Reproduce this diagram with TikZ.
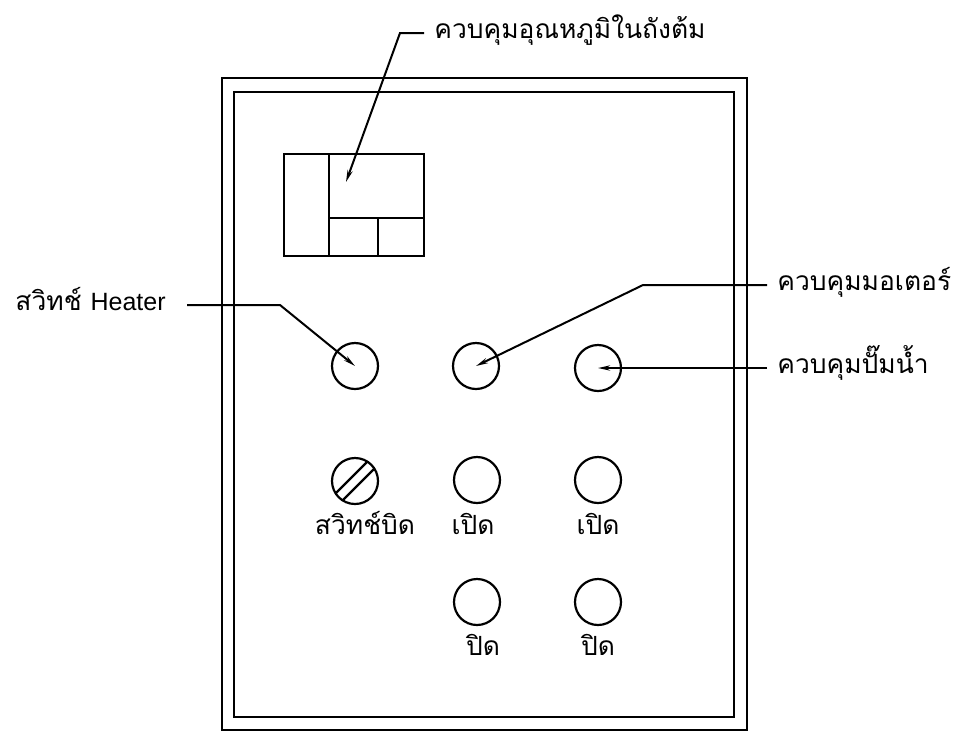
\documentclass[tikz,border=0pt]{standalone}
\usepackage{fontspec}
\setsansfont{Liberation Sans}
\newfontfamily\thaifont[Script=Thai]{Loma}
\usetikzlibrary{arrows.meta,calc}

\begin{document}
\begin{tikzpicture}[x=0.5pt,y=-0.5pt,
    every node/.style={font=\thaifont\fontsize{13.2}{16}\selectfont},
    frame/.style={line width=1.4pt},
    knob/.style={draw,circle,line width=1.1pt,minimum size=23pt,inner sep=0pt},
    lead/.style={line width=1pt,-{Stealth[length=6pt,width=2.6pt]}},
    tag/.style={inner xsep=5pt,inner ysep=2pt,text height=0.6em,text depth=0.05em}]
    \useasboundingbox (0,0) rectangle (963,734);

    % panel
    \draw[frame] (222,78) rectangle (747,730);
    \draw[frame] (234,92) rectangle (734,717);

    % temperature controller
    \draw[line width=1.1pt] (284,154) rectangle (424,256);
    \draw[line width=1.1pt] (329,154) -- (329,256) (329,218) -- (424,218) (378,218) -- (378,256);
    \coordinate (disp) at (346,182);

    % knobs and lamps
    \node[knob] (heat) at (355,366) {};
    \node[knob] (motor) at (476,366) {};
    \node[knob] (pump) at (598,368) {};
    \node[knob] (sw) at (355,481) {};
    \node[knob] (on1) at (477,480) {};
    \node[knob] (on2) at (598,480) {};
    \node[knob] (off1) at (477,602) {};
    \node[knob] (off2) at (598,602) {};
    \draw[line width=1.1pt] ($(sw)+(-19.3,12.3)$) -- ($(sw)+(12.3,-19.3)$)
        ($(sw)+(-12.3,19.3)$) -- ($(sw)+(19.3,-12.3)$);

    % labels
    \node[tag,anchor=west] (tlab) at (424,33) {ควบคุมอุณหภูมิในถังต้ม};
    \node[tag,anchor=east] (hlab) at (176,305) {สวิทช์ {\sffamily\fontsize{12.5}{15}\selectfont Heater}};
    \node[tag,anchor=west] (mlab) at (767,285) {ควบคุมมอเตอร์};
    \node[tag,anchor=west] (plab) at (767,368) {ควบคุมปั๊มน้ำ};
    \node[tag] (swlab) at (365,529) {สวิทช์บิด};
    \node[tag] (on1lab) at (473,529) {เปิด};
    \node[tag] (on2lab) at (598,529) {เปิด};
    \node[tag] (off1lab) at (483,650) {ปิด};
    \node[tag] (off2lab) at (598,650) {ปิด};

    % leaders
    \draw[lead] (tlab.west) -- ++(-24,0) -- (disp);
    \draw[lead] ([xshift=5.5pt]hlab.east) -- ++(93,0) -- (heat.center);
    \draw[lead] (mlab.west) -- ++(-124,0) -- (motor.center);
    \draw[lead] (plab.west) -- (pump.center);
\end{tikzpicture}
\end{document}
